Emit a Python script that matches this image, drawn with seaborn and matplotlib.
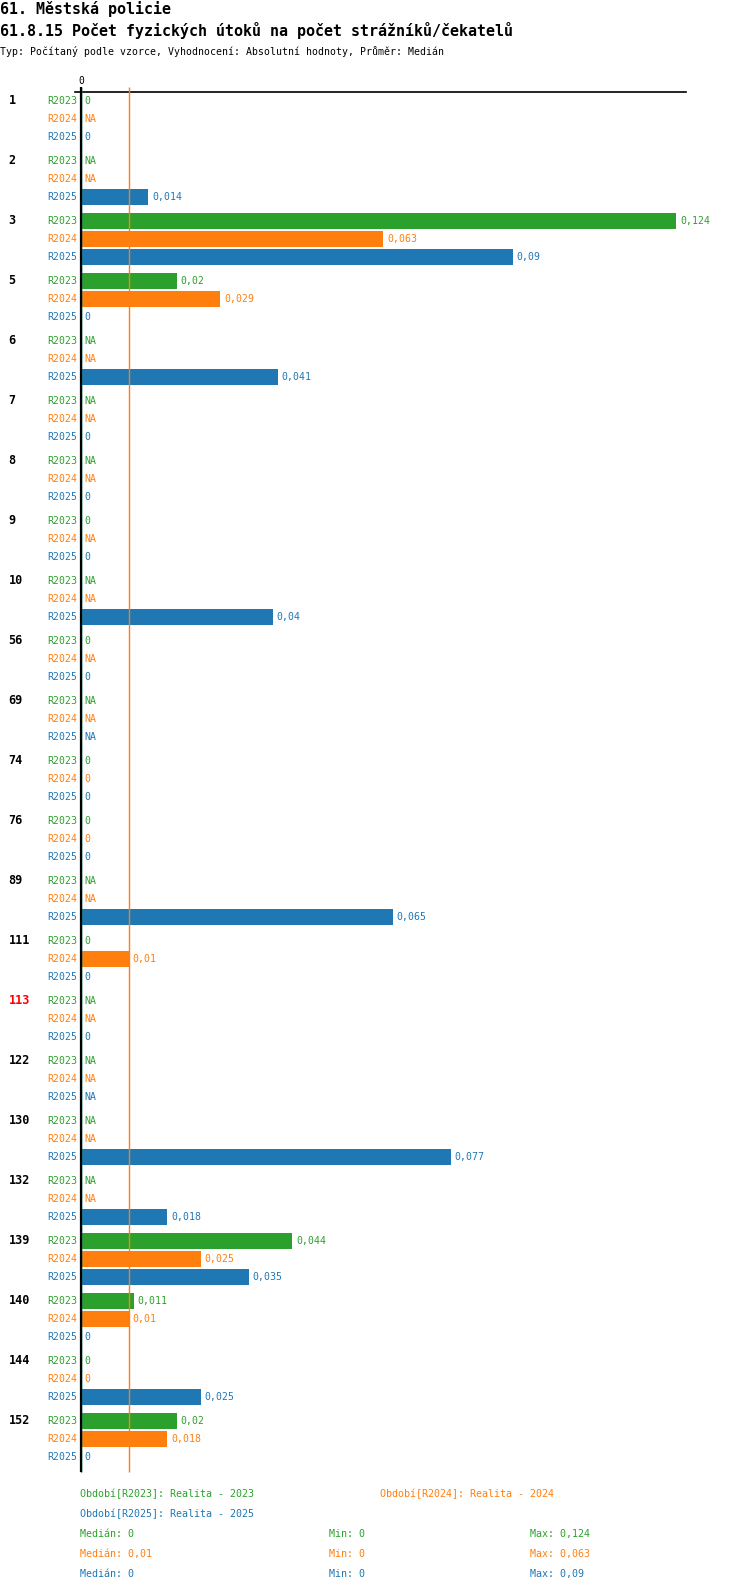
import numpy as np
import pandas as pd
import seaborn as sns
import matplotlib
matplotlib.use("Agg")
import matplotlib.pyplot as plt
from matplotlib.transforms import blended_transform_factory

nan = np.nan

# data
groups = ["1", "2", "3", "5", "6", "7", "8", "9", "10", "56", "69", "74", "76",
          "89", "111", "113", "122", "130", "132", "139", "140", "144", "152"]
highlight = "113"
periods = ["R2023", "R2024", "R2025"]
period_names = ["Realita - 2023", "Realita - 2024", "Realita - 2025"]
r2023 = [0, nan, 0.124, 0.02, nan, nan, nan, 0, nan, 0, nan, 0, 0,
         nan, 0, nan, nan, nan, nan, 0.044, 0.011, 0, 0.02]
r2024 = [nan, nan, 0.063, 0.029, nan, nan, nan, nan, nan, nan, nan, 0, 0,
         nan, 0.01, nan, nan, nan, nan, 0.025, 0.01, 0, 0.018]
r2025 = [0, 0.014, 0.09, 0, 0.041, 0, 0, 0, 0.04, 0, nan, 0, 0,
         0.065, 0, 0, nan, 0.077, 0.018, 0.035, 0, 0.025, 0]
colors = {"R2023": "#2ca02c", "R2024": "#ff7f0e", "R2025": "#1f77b4"}

sns.set_style("white")
plt.rcParams["font.family"] = ["DejaVu Sans Mono", "DejaVu Sans"]
plt.rcParams["text.color"] = "black"

W, H = 750, 1592
# layout in pixels
y0, group_step, row_step = 101, 60, 18
ax_left, ax_right, ax_top, ax_bottom = 75, 686, 92.3, 1472
px_per_unit = 4800.0


def fmt(v):
    if np.isnan(v):
        return "NA"
    return ("%.3f" % v).rstrip("0").rstrip(".").replace(".", ",")


series = {"R2023": r2023, "R2024": r2024, "R2025": r2025}
rows = []
for g, name in enumerate(groups):
    for k, p in enumerate(periods):
        rows.append({"group": name, "period": p, "value": series[p][g],
                     "ypos": y0 + g * group_step + k * row_step})
df = pd.DataFrame(rows)

fig = plt.figure(figsize=(W / 100, H / 100), dpi=100)
ax = fig.add_axes([ax_left / W, 1 - ax_bottom / H,
                   (ax_right - ax_left) / W, (ax_bottom - ax_top) / H])

sns.barplot(data=df.dropna(subset=["value"]), x="value", y="ypos", hue="period",
            palette=colors, orient="h", native_scale=True, dodge=False,
            width=16 / 18, errorbar=None, legend=False, saturation=1,
            linewidth=0, ax=ax)

ax.set_xlim((ax_left - 81) / px_per_unit, (ax_right - 81) / px_per_unit)
ax.set_ylim(ax_bottom, ax_top)
ax.set_xlabel("")
ax.set_ylabel("")
ax.set_xticks([])
ax.set_yticks([])
for s in ["left", "right", "bottom"]:
    ax.spines[s].set_visible(False)
ax.spines["top"].set_color("black")
ax.spines["top"].set_linewidth(1.2)

# median lines, then the zero axis on top
medians = {p: np.nanmedian(series[p]) for p in periods}
for p in periods:
    ax.vlines(medians[p], 87, ax_bottom, color=colors[p], lw=1.0,
              clip_on=False, zorder=3)
ax.vlines(0, 87, ax_bottom, color="black", lw=1.6, clip_on=False, zorder=4)
ax.text(0, 81, "0", ha="center", va="center", fontsize=7, color="black")

# row labels and values
for _, r in df.iterrows():
    c = colors[r["period"]]
    ax.annotate(r["period"], (0, r["ypos"]), xytext=(-2.7, 0),
                textcoords="offset points", ha="right", va="center",
                fontsize=7.1, color=c)
    v = r["value"]
    xv = 0 if np.isnan(v) else v
    ax.annotate(fmt(v), (xv, r["ypos"]), xytext=(2.7, 0),
                textcoords="offset points", ha="left", va="center",
                fontsize=7.1, color=c)

trans = blended_transform_factory(fig.transFigure, ax.transData)
for g, name in enumerate(groups):
    ax.text(8.5 / W, y0 + g * group_step, name, transform=trans, ha="left",
            va="center", fontsize=8.5, fontweight="bold",
            color="red" if name == highlight else "black")

# titles
fig.text(0, 1 - 8.8 / H, "61. Městská policie", fontsize=10.8,
         fontweight="bold", va="center", ha="left")
fig.text(0, 1 - 30.7 / H, "61.8.15 Počet fyzických útoků na počet strážníků/čekatelů",
         fontsize=10.8, fontweight="bold", va="center", ha="left")
fig.text(0, 1 - 51.7 / H,
         "Typ: Počítaný podle vzorce, Vyhodnocení: Absolutní hodnoty, Průměr: Medián",
         fontsize=7.1, va="center", ha="left")

# legend
legend_pos = [(79.7, 1494), (379.7, 1494), (79.7, 1514.3)]
for (lx, ly), p, nm in zip(legend_pos, periods, period_names):
    fig.text(lx / W, 1 - ly / H, "Období[%s]: %s" % (p, nm), fontsize=7.2,
             color=colors[p], va="center", ha="left")

for k, p in enumerate(periods):
    ly = 1534.3 + k * 20
    vals = series[p]
    fig.text(79.7 / W, 1 - ly / H, "Medián: " + fmt(np.nanmedian(vals)),
             fontsize=7.2, color=colors[p], va="center", ha="left")
    fig.text(329.3 / W, 1 - ly / H, "Min: " + fmt(np.nanmin(vals)),
             fontsize=7.2, color=colors[p], va="center", ha="left")
    fig.text(529.7 / W, 1 - ly / H, "Max: " + fmt(np.nanmax(vals)),
             fontsize=7.2, color=colors[p], va="center", ha="left")

fig.savefig("out.png", dpi=100)
